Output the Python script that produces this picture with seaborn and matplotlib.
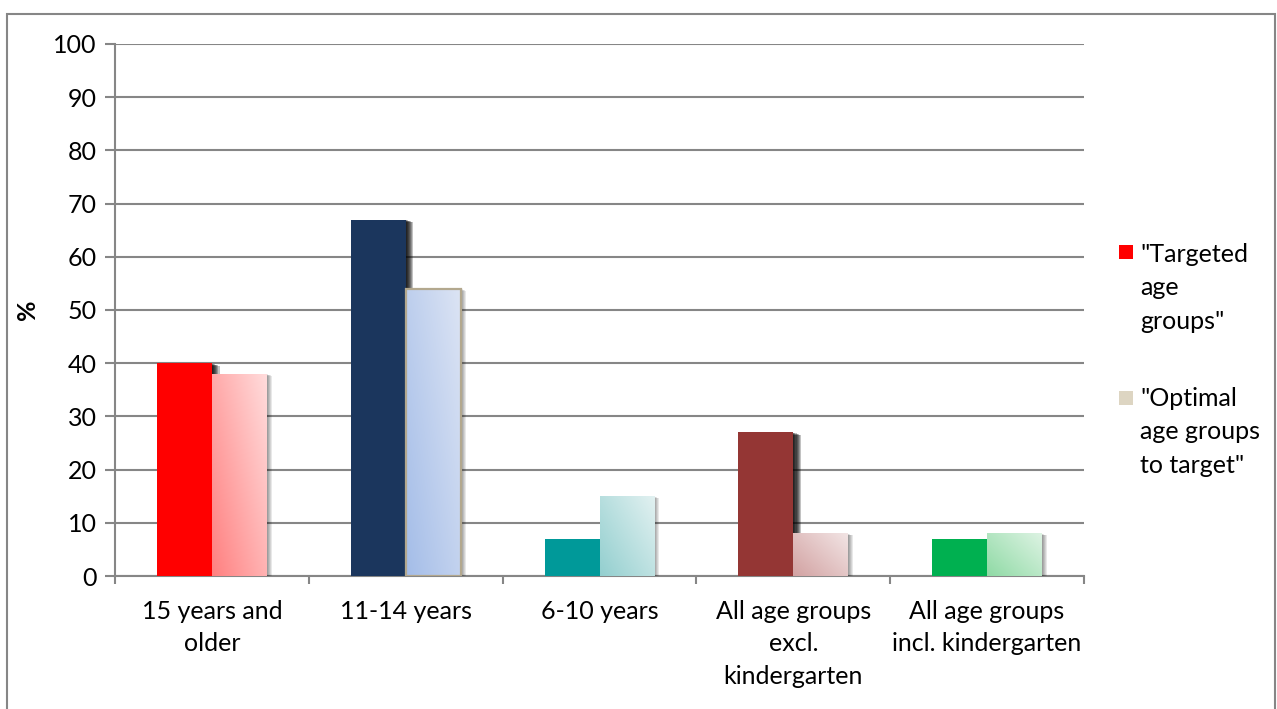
import numpy as np
import pandas as pd
import matplotlib
matplotlib.use("Agg")
import matplotlib.pyplot as plt
import matplotlib.patheffects as pe
from matplotlib.patches import Rectangle
from matplotlib.colors import to_rgb
import seaborn as sns

# ---- data ----
categories = ["15 years and\nolder", "11-14 years", "6-10 years",
              "All age groups\nexcl.\nkindergarten", "All age groups\nincl. kindergarten"]
series = ['"Targeted\nage\ngroups"', '"Optimal\nage groups\nto target"']
targeted = [40, 67, 7, 27, 7]
optimal = [38, 54, 15, 8, 8]
y_ticks = [0, 10, 20, 30, 40, 50, 60, 70, 80, 90, 100]

# ---- colours ----
solid_colors = ["#FF0000", "#1B365D", "#009999", "#943634", "#00B050"]
grad_start = ["#FF8080", "#A4BDE8", "#93CFCF", "#D2A2A2", "#8FDAA5"]
grad_end = ["#FFDCDC", "#DCE4F4", "#E2F1F1", "#F2E4E4", "#DDF3E3"]
light_edges = ["none", "#B3A88E", "none", "none", "none"]
legend_colors = ["#FF0000", "#DDD5C2"]
grid_color = "#868686"
FS = 18

sns.set_theme(style="white")
plt.rcParams["font.family"] = ["Lato", "DejaVu Sans"]

df = pd.DataFrame({
    "category": categories * 2,
    "series": [series[0]] * len(categories) + [series[1]] * len(categories),
    "value": targeted + optimal,
})

W, H = 1277, 709
fig = plt.figure(figsize=(W / 100, H / 100), dpi=100)
ax = fig.add_axes([115 / W, 1 - 576 / H, (1084 - 115) / W, (576 - 44) / H])

sns.barplot(data=df, x="category", y="value", hue="series", order=categories,
            hue_order=series, width=0.567, ax=ax, legend=False,
            palette=["#FF0000", "#FFAAAA"], saturation=1)


def soft_shadow(steps, max_dx, dy, alpha):
    fx = []
    for k in range(steps, 0, -1):
        f = k / steps
        fx.append(pe.SimplePatchShadow(offset=(max_dx * f, -dy * f),
                                       shadow_rgbFace="black", alpha=alpha))
    fx.append(pe.Normal())
    return fx


shadow_fx = soft_shadow(7, 5.5, 1.8, 0.24)
light_shadow_fx = soft_shadow(5, 3.5, 1.4, 0.09)

# solid bars
for i, bar in enumerate(ax.containers[0]):
    bar.set_facecolor(solid_colors[i])
    bar.set_edgecolor("none")
    bar.set_zorder(3)
    bar.set_path_effects(shadow_fx)

# gradient-filled bars
for i, bar in enumerate(ax.containers[1]):
    bar.set_facecolor(grad_end[i])
    bar.set_edgecolor("none")
    bar.set_zorder(3.5)
    bar.set_path_effects(light_shadow_fx)
    x0, w = bar.get_x(), bar.get_width()
    h = bar.get_height()
    n = 64
    u = np.linspace(0, 1, n)
    gx, gy = np.meshgrid(u, u)
    t = np.clip(0.55 * gx + 0.45 * gy, 0, 1)  # top-left -> bottom-right
    c0, c1 = np.array(to_rgb(grad_start[i])), np.array(to_rgb(grad_end[i]))
    img = c0[None, None, :] * (1 - t[..., None]) + c1[None, None, :] * t[..., None]
    im = ax.imshow(img, extent=[x0, x0 + w, h, 0], origin="upper", aspect="auto",
                   zorder=3.6, interpolation="bilinear")
    im.set_clip_path(bar)
    if light_edges[i] != "none":
        ax.add_patch(Rectangle((x0, 0), w, h, facecolor="none",
                               edgecolor=light_edges[i], linewidth=1.6, zorder=3.7))

# axes styling
ax.set_xlim(-0.5, len(categories) - 0.5)
ax.set_ylim(0, 100)
ax.set_yticks(y_ticks)
ax.set_yticklabels([str(v) for v in y_ticks], fontsize=FS, color="black")
ax.yaxis.grid(True, color=grid_color, linewidth=1.5)
ax.set_axisbelow(True)
ax.set_xlabel("")
ax.set_ylabel("%", fontsize=FS, fontweight="bold", rotation=90, color="black")
ax.yaxis.set_label_coords((39 - 115) / (1084 - 115), (576 - 310) / (576 - 44))

ax.set_xticks(range(len(categories)))
ax.set_xticklabels(categories, fontsize=FS, color="black", linespacing=1.52)
ax.set_xticks(np.arange(-0.5, len(categories), 1.0), minor=True)
ax.tick_params(axis="x", which="major", length=0, pad=17)
ax.tick_params(axis="x", which="minor", length=6, width=1.5, color=grid_color, direction="out")
ax.tick_params(axis="y", which="major", length=7, width=1.5, color=grid_color,
               direction="out", pad=6)
ax.tick_params(bottom=True, left=True, which="both")

for side in ["top", "right"]:
    ax.spines[side].set_visible(False)
for side in ["left", "bottom"]:
    ax.spines[side].set_color(grid_color)
    ax.spines[side].set_linewidth(1.5)
    ax.spines[side].set_zorder(2.5)

# legend drawn in figure coordinates
legend_rows = [(245, 243, series[0]), (391, 387, series[1])]
for (sq_top, txt_top, label), col in zip(legend_rows, legend_colors):
    fig.patches.append(Rectangle((1119 / W, 1 - (sq_top + 14) / H), 14 / W, 14 / H,
                                 facecolor=col, edgecolor="none",
                                 transform=fig.transFigure, figure=fig))
    fig.text(1140 / W, 1 - txt_top / H, label, fontsize=FS, va="top", ha="left",
             linespacing=1.55, color="black")

# outer chart frame
fig.patches.append(Rectangle((7 / W, -0.02), (1275 - 7) / W, 1 - 14 / H + 0.02,
                             facecolor="none", edgecolor=grid_color, linewidth=1.5,
                             transform=fig.transFigure, figure=fig))

fig.savefig("out.png", dpi=100)
